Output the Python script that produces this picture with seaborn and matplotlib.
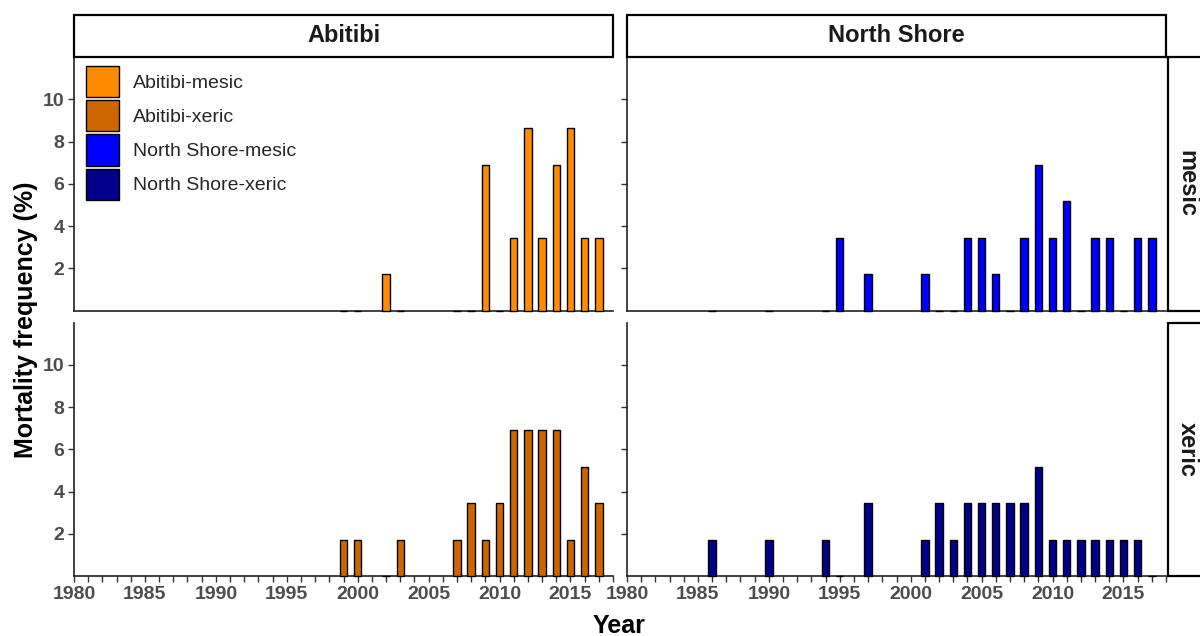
import pandas as pd
import matplotlib
matplotlib.use("Agg")
import matplotlib.pyplot as plt
from matplotlib.patches import Patch, Rectangle
from matplotlib.ticker import MultipleLocator
import seaborn as sns

# -----------------------
# Data (mortality frequency, %)
# -----------------------
ab_mesic_years = [1999, 2000, 2002, 2003, 2007, 2008, 2009, 2010, 2011, 2012, 2013, 2014, 2015, 2016, 2017]
ab_mesic_vals = [0, 0, 1.72, 0, 0, 0, 6.90, 0, 3.45, 8.62, 3.45, 6.90, 8.62, 3.45, 3.45]

ab_xeric_years = [1999, 2000, 2002, 2003, 2007, 2008, 2009, 2010, 2011, 2012, 2013, 2014, 2015, 2016, 2017]
ab_xeric_vals = [1.72, 1.72, 0, 1.72, 1.72, 3.45, 1.72, 3.45, 6.90, 6.90, 6.90, 6.90, 1.72, 5.17, 3.45]

ns_mesic_years = [1986, 1990, 1994, 1995, 1997, 2001, 2002, 2003, 2004, 2005, 2006, 2007,
                  2008, 2009, 2010, 2011, 2012, 2013, 2014, 2015, 2016, 2017]
ns_mesic_vals = [0, 0, 0, 3.45, 1.72, 1.72, 0, 0, 3.45, 3.45, 1.72, 0,
                 3.45, 6.90, 3.45, 5.17, 0, 3.45, 3.45, 0, 3.45, 3.45]

ns_xeric_years = [1986, 1990, 1994, 1995, 1997, 2001, 2002, 2003, 2004, 2005, 2006, 2007,
                  2008, 2009, 2010, 2011, 2012, 2013, 2014, 2015, 2016, 2017]
ns_xeric_vals = [1.72, 1.72, 1.72, 0, 3.45, 1.72, 3.45, 1.72, 3.45, 3.45, 3.45, 3.45,
                 3.45, 5.17, 1.72, 1.72, 1.72, 1.72, 1.72, 1.72, 1.72, 0]

regions = ["Abitibi", "North Shore"]
sites = ["mesic", "xeric"]
groups = ["Abitibi-mesic", "Abitibi-xeric", "North Shore-mesic", "North Shore-xeric"]
colors = ["#FF8C00", "#CD6600", "#0000FF", "#00008B"]
palette = dict(zip(groups, colors))

frames = []
for reg, site, yrs, vals in [("Abitibi", "mesic", ab_mesic_years, ab_mesic_vals),
                             ("Abitibi", "xeric", ab_xeric_years, ab_xeric_vals),
                             ("North Shore", "mesic", ns_mesic_years, ns_mesic_vals),
                             ("North Shore", "xeric", ns_xeric_years, ns_xeric_vals)]:
    frames.append(pd.DataFrame({"region": reg, "site": site, "year": yrs,
                                "value": vals, "group": f"{reg}-{site}"}))
df = pd.concat(frames, ignore_index=True)

# -----------------------
# Style
# -----------------------
sns.set_theme(style="ticks")
plt.rcParams["font.family"] = ["Liberation Sans", "DejaVu Sans"]
plt.rcParams["font.weight"] = "bold"

W, H = 1200, 636


def fx(px):
    return px / W


def fy(py):
    return 1 - py / H


def draw_bars(data, **kws):
    ax = plt.gca()
    sns.barplot(data=data, x="year", y="value", hue="group", palette=palette,
                native_scale=True, width=0.52, errorbar=None, dodge=False,
                saturation=1, edgecolor="black", linewidth=1, legend=False, ax=ax)
    for p in ax.patches:
        p.set_zorder(3)
        p.set_clip_on(False)


g = sns.FacetGrid(df, row="site", col="region", row_order=sites, col_order=regions,
                  sharex=True, sharey=True, despine=True)
g.map_dataframe(draw_bars)
fig = g.figure
fig.set_size_inches(W / 100, H / 100)
fig.set_dpi(100)
g.set_titles("")
g.set_axis_labels("", "")
fig.subplots_adjust(left=fx(74), right=fx(1166), top=fy(57), bottom=fy(576),
                    wspace=14 / 539, hspace=12 / 253.5)

for i, site in enumerate(sites):
    for j, reg in enumerate(regions):
        ax = g.axes[i, j]
        ax.set_xlim(1980, 2018)
        ax.set_ylim(0, 12)
        ax.xaxis.set_major_locator(MultipleLocator(5))
        ax.xaxis.set_minor_locator(MultipleLocator(1))
        ax.set_yticks([2, 4, 6, 8, 10])
        ax.tick_params(axis="both", which="both", length=4, width=1, color="#333333",
                       labelsize=14, labelcolor="#4D4D4D", pad=3)
        for s in ["left", "bottom"]:
            ax.spines[s].set_linewidth(1.2)
            ax.spines[s].set_color("#222222")
        if i == 0:
            ax.tick_params(axis="x", which="both", bottom=False, labelbottom=False)
        if j == 1:
            ax.tick_params(axis="y", labelleft=False)
        ax.set_xlabel("")
        ax.set_ylabel("")

# -----------------------
# Strips
# -----------------------
for j, reg in enumerate(regions):
    bb = g.axes[0, j].get_position()
    fig.add_artist(Rectangle((bb.x0, fy(57)), bb.width, fy(15) - fy(57),
                             transform=fig.transFigure, facecolor="white",
                             edgecolor="black", linewidth=1.6))
    fig.text(bb.x0 + bb.width / 2, fy(36), reg, ha="center", va="center",
             fontsize=17, fontweight="bold", color="#1A1A1A")

for i, site in enumerate(sites):
    bb = g.axes[i, 1].get_position()
    fig.add_artist(Rectangle((fx(1168), bb.y0), fx(42), bb.height,
                             transform=fig.transFigure, facecolor="white",
                             edgecolor="black", linewidth=1.6))
    fig.text(fx(1187), bb.y0 + bb.height / 2, site, ha="center", va="center",
             rotation=-90, fontsize=17, fontweight="bold", color="#1A1A1A")

# -----------------------
# Legend
# -----------------------
handles = [Patch(facecolor=c, edgecolor="black", linewidth=1) for c in colors]
g.axes[0, 0].legend(handles, groups, loc="upper left", bbox_to_anchor=(12 / 538, 0.965),
                    frameon=False, borderpad=0, borderaxespad=0,
                    handlelength=1.7, handleheight=2.1,
                    labelspacing=0.15, handletextpad=0.72,
                    prop={"size": 14, "weight": "normal"})

fig.text(fx(26), fy(320), "Mortality frequency (%)", rotation=90, ha="center",
         va="center", fontsize=18, fontweight="bold", color="black")
fig.text(fx(619), fy(626), "Year", ha="center", va="center", fontsize=18,
         fontweight="bold", color="black")

fig.savefig("out.png", dpi=100)
